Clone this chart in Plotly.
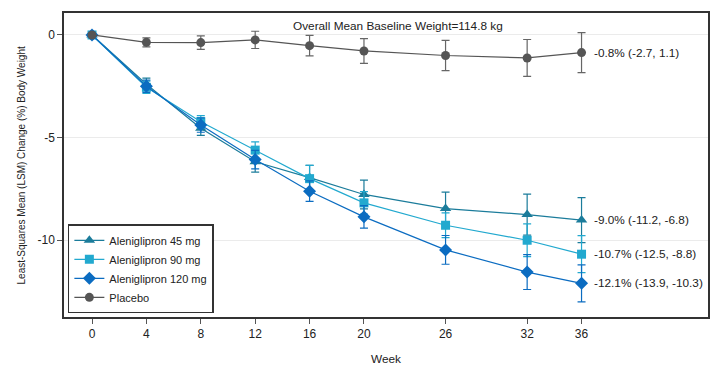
import plotly.graph_objects as go

weeks = [0, 4, 8, 12, 16, 20, 26, 32, 36]

mean_45 = [0, -2.40, -4.54, -6.18, -6.95, -7.77, -8.46, -8.75, -9.02]
err_45 = [0.1, 0.30, 0.35, 0.50, 0.60, 0.70, 0.80, 1.00, 1.10]

mean_90 = [0, -2.55, -4.23, -5.61, -7.00, -8.18, -9.27, -10.00, -10.68]
err_90 = [0.1, 0.30, 0.30, 0.40, 0.65, 0.55, 0.60, 0.80, 0.90]

mean_120 = [0, -2.50, -4.39, -6.07, -7.61, -8.86, -10.47, -11.55, -12.10]
err_120 = [0.1, 0.30, 0.35, 0.45, 0.50, 0.55, 0.70, 0.85, 0.90]

mean_pbo = [0, -0.36, -0.37, -0.24, -0.52, -0.78, -1.00, -1.12, -0.86]
err_pbo = [0.1, 0.22, 0.33, 0.42, 0.50, 0.60, 0.74, 0.90, 0.97]

names = ["Aleniglipron 45 mg", "Aleniglipron 90 mg", "Aleniglipron 120 mg", "Placebo"]
end_labels = ["-9.0% (-11.2, -6.8)", "-10.7% (-12.5, -8.8)", "-12.1% (-13.9, -10.3)", "-0.8% (-2.7, 1.1)"]
x_ticks = [0, 4, 8, 12, 16, 20, 26, 32, 36]
y_ticks = [0, -5, -10]

series = [
    (mean_45, err_45, "#1b7c9b", "triangle-up", 10),
    (mean_90, err_90, "#22a9cf", "square", 9),
    (mean_120, err_120, "#0b6cc1", "diamond", 10),
    (mean_pbo, err_pbo, "#555555", "circle", 9),
]

fig = go.Figure()
for (m, e, col, sym, sz), name in zip(series, names):
    fig.add_trace(go.Scatter(
        x=weeks, y=m, name=name, mode="lines+markers",
        line=dict(color=col, width=1.2),
        marker=dict(symbol=sym, size=sz, color=col),
        error_y=dict(type="data", array=e, visible=True, color=col if col != "#555555" else "#666666",
                     thickness=1.2, width=4),
    ))

for (m, e, col, sym, sz), lab in zip(series, end_labels):
    fig.add_annotation(x=weeks[-1], y=m[-1], text=lab, showarrow=False,
                       xanchor="left", yanchor="middle", xshift=10,
                       font=dict(size=11.8, color="#222222"))

fig.add_annotation(x=22.5, y=0.45, text="Overall Mean Baseline Weight=114.8 kg",
                   showarrow=False, xanchor="center", yanchor="middle",
                   font=dict(size=11.8, color="#222222"))

fig.add_annotation(x=-0.066, y=0.5, xref="paper", yref="paper", textangle=-90,
                   text="Least-Squares Mean (LSM) Change (%) Body Weight", showarrow=False,
                   xanchor="center", yanchor="middle", font=dict(size=10, color="#222222"))

fig.update_layout(
    width=711, height=371,
    margin=dict(l=64, r=3, t=13, b=54, autoexpand=False),
    paper_bgcolor="white", plot_bgcolor="white",
    font=dict(family="Liberation Sans, Arial, sans-serif", size=12, color="#222222"),
    showlegend=True,
    legend=dict(x=0.006, y=0.012, xanchor="left", yanchor="bottom",
                bordercolor="#333333", borderwidth=1.5, bgcolor="white",
                font=dict(size=11), tracegroupgap=0, itemwidth=30),
)
fig.update_xaxes(range=[-2.06, 45.3], tickvals=x_ticks, ticktext=[str(t) for t in x_ticks],
                 automargin=False,
                 showgrid=False, zeroline=False, ticks="outside", ticklen=5, tickcolor="#555555",
                 showline=True, linecolor="#333333", linewidth=1.5, mirror=True,
                 title=dict(text="Week", font=dict(size=11.8)),
                 tickfont=dict(size=12))
fig.update_yaxes(range=[-13.74, 1.07], tickvals=y_ticks, ticktext=[str(t) for t in y_ticks],
                 automargin=False,
                 showgrid=True, gridcolor="#ebebeb", gridwidth=1, zeroline=False,
                 ticks="outside", ticklen=5, tickcolor="#555555",
                 showline=True, linecolor="#333333", linewidth=1.5, mirror=True,
                 tickfont=dict(size=12))

fig.write_html("out.html", config={"displayModeBar": False},
               post_script="document.body.style.margin='0';document.body.style.overflow='hidden';")
